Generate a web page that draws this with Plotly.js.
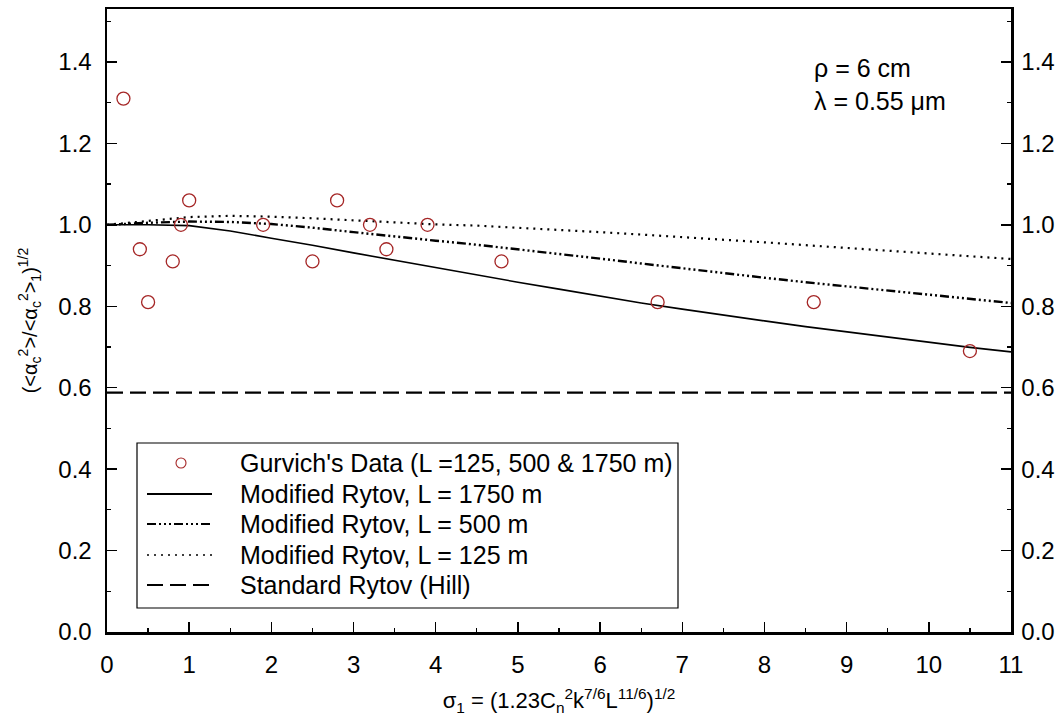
<!DOCTYPE html>
<html>
<head>
<meta charset="utf-8">
<script src="https://cdn.plot.ly/plotly-3.0.1.min.js"></script>
<style>
  html, body { margin: 0; padding: 0; background: #fff; }
  #chart { width: 1059px; height: 719px; }
</style>
</head>
<body>
<div id="chart"></div>
<script>
// Gurvich's measurements (L = 125, 500 & 1750 m)
const gurvichX = [0.2, 0.4, 0.5, 0.8, 0.9, 1.0, 1.9, 2.5, 2.8, 3.2, 3.4, 3.9, 4.8, 6.7, 8.6, 10.5];
const gurvichY = [1.31, 0.94, 0.81, 0.91, 1.0, 1.06, 1.0, 0.91, 1.06, 1.0, 0.94, 1.0, 0.91, 0.81, 0.81, 0.69];

// Common sigma_1 grid for the theory curves
const sigma = [0, 0.5, 1.0, 1.5, 2.0, 2.5, 3.0, 3.5, 4.0, 4.5, 5.0, 5.5, 6.0, 6.5, 7.0, 7.5, 8.0, 8.5, 9.0, 9.5, 10.0, 10.5, 11.0];

// Modified Rytov theory, three path lengths
const rytov1750 = [1.000, 1.000, 0.998, 0.985, 0.967, 0.950, 0.931, 0.913, 0.894, 0.876, 0.859, 0.842, 0.825, 0.808, 0.793, 0.778, 0.764, 0.750, 0.737, 0.724, 0.711, 0.699, 0.688];
const rytov500  = [1.000, 1.005, 1.008, 1.007, 1.002, 0.993, 0.982, 0.971, 0.961, 0.951, 0.940, 0.928, 0.917, 0.905, 0.893, 0.881, 0.870, 0.859, 0.849, 0.838, 0.828, 0.818, 0.808];
const rytov125  = [1.000, 1.010, 1.019, 1.022, 1.020, 1.016, 1.011, 1.006, 1.001, 0.998, 0.993, 0.987, 0.982, 0.976, 0.970, 0.963, 0.957, 0.950, 0.943, 0.936, 0.929, 0.922, 0.916];

// Standard Rytov (Hill) level
const hillX = [0, 11];
const hillY = [0.588, 0.588];

// Legend labels
const legendLabels = [
  "Gurvich's Data (L =125, 500 &amp; 1750 m)",
  "Modified Rytov, L = 1750 m",
  "Modified Rytov, L = 500 m",
  "Modified Rytov, L = 125 m",
  "Standard Rytov (Hill)"
];

const FONT = '"Liberation Sans", Arial, sans-serif';
const MARK_RED = '#a52626';

const DASH_500 = '9px,3px,2px,3px,2px,3px,2px,3px';
const DOT_125 = '2px,5px';
const DASH_HILL = '16px,7px';

const traces = [
  { x: sigma, y: rytov1750, mode: 'lines', line: { color: '#000', width: 1.6 }, name: legendLabels[1] },
  { x: sigma, y: rytov500, mode: 'lines', line: { color: '#000', width: 2.4, dash: DASH_500 }, name: legendLabels[2] },
  { x: sigma, y: rytov125, mode: 'lines', line: { color: '#000', width: 2.2, dash: DOT_125 }, name: legendLabels[3] },
  { x: hillX, y: hillY, mode: 'lines', yaxis: 'y2', line: { color: '#000', width: 2.2, dash: DASH_HILL }, name: legendLabels[4] },
  { x: gurvichX, y: gurvichY, mode: 'markers', name: legendLabels[0],
    marker: { symbol: 'circle-open', size: 13, color: MARK_RED, line: { width: 1.3, color: MARK_RED } } }
];

// Plot-area geometry in pixels, used to place the legend box in paper units
const W = 1059, H = 719;
const L = 107, R = 48, T = 9, B = 87;
const PW = W - L - R, PH = H - T - B;
const px = v => (v - L) / PW;
const py = v => (H - B - v) / PH;

// Hand-built legend: frame, samples and labels
const rowY = [463, 494, 524, 555, 585];
const sampleX0 = px(147), sampleX1 = px(212), sampleXc = px(181);
const textX = px(238);

const shapes = [
  { type: 'rect', xref: 'paper', yref: 'paper', x0: px(137), x1: px(678), y0: py(608), y1: py(443),
    line: { color: '#000', width: 1.2 }, fillcolor: 'rgba(0,0,0,0)' },
  { type: 'circle', xref: 'paper', yref: 'paper', xsizemode: 'pixel', ysizemode: 'pixel',
    xanchor: sampleXc, yanchor: py(rowY[0]), x0: -5, x1: 5, y0: -5, y1: 5,
    line: { color: MARK_RED, width: 1.1 } },
  { type: 'line', xref: 'paper', yref: 'paper', x0: sampleX0, x1: sampleX1, y0: py(rowY[1]), y1: py(rowY[1]),
    line: { color: '#000', width: 2 } },
  { type: 'line', xref: 'paper', yref: 'paper', x0: sampleX0, x1: sampleX1, y0: py(rowY[2]), y1: py(rowY[2]),
    line: { color: '#000', width: 2, dash: DASH_500 } },
  { type: 'line', xref: 'paper', yref: 'paper', x0: sampleX0, x1: sampleX1, y0: py(rowY[3]), y1: py(rowY[3]),
    line: { color: '#000', width: 1.5, dash: DOT_125 } },
  { type: 'line', xref: 'paper', yref: 'paper', x0: sampleX0, x1: sampleX1, y0: py(rowY[4]), y1: py(rowY[4]),
    line: { color: '#000', width: 2, dash: DASH_HILL } }
];

const annotations = legendLabels.map((t, i) => ({
  xref: 'paper', yref: 'paper', x: textX, y: py(rowY[i]), xanchor: 'left', yanchor: 'middle',
  text: t, showarrow: false, font: { family: FONT, size: 25, color: '#000' }
}));

annotations.push(
  { xref: 'paper', yref: 'paper', x: px(812), y: py(68), xanchor: 'left', yanchor: 'middle',
    text: '\u03C1 = 6 cm', showarrow: false, font: { family: FONT, size: 25, color: '#000' } },
  { xref: 'paper', yref: 'paper', x: px(812), y: py(101), xanchor: 'left', yanchor: 'middle',
    text: '\u03BB = 0.55 \u03BCm', showarrow: false, font: { family: FONT, size: 25, color: '#000' } }
);

const yCommon = {
  range: [0, 1.53], dtick: 0.2, tick0: 0, tickformat: '.1f',
  ticks: 'inside', ticklen: 10, tickwidth: 1.5, tickcolor: '#000',
  minor: { ticks: 'inside', ticklen: 4, tickwidth: 1.2, dtick: 0.1, tickcolor: '#000' },
  showline: true, linewidth: 2.5, linecolor: '#000',
  showgrid: false, zeroline: false, fixedrange: true,
  tickfont: { family: FONT, size: 24, color: '#000' }
};

const layout = {
  width: W, height: H,
  margin: { l: L, r: R, t: T, b: B, pad: 0 },
  paper_bgcolor: '#fff', plot_bgcolor: '#fff',
  showlegend: false,
  font: { family: FONT, color: '#000' },
  xaxis: {
    range: [0, 11], dtick: 1, tick0: 0,
    ticks: 'inside', ticklen: 10, tickwidth: 1.5, tickcolor: '#000',
    minor: { ticks: 'inside', ticklen: 4, tickwidth: 1.2, dtick: 0.5, tickcolor: '#000' },
    showline: true, linewidth: 2.5, linecolor: '#000', mirror: true,
    showgrid: false, zeroline: false, fixedrange: true,
    ticklabelstandoff: 10,
    tickfont: { family: FONT, size: 24, color: '#000' },
    title: {
      text: '\u03C3<sub>1</sub> = (1.23C<sub>n</sub><sup>2</sup>k<sup>7/6</sup>L<sup>11/6</sup>)<sup>1/2</sup>',
      font: { family: FONT, size: 22, color: '#000' }, standoff: 16
    }
  },
  yaxis: Object.assign({}, yCommon, {
    side: 'left',
    ticklabelstandoff: 8,
    title: {
      text: '(&lt;\u03B1<sub>c</sub><sup>2</sup>&gt;/&lt;\u03B1<sub>c</sub><sup>2</sup>&gt;<sub>1</sub>)<sup>1/2</sup>',
      font: { family: FONT, size: 20, color: '#000' }, standoff: 16
    }
  }),
  yaxis2: Object.assign({}, yCommon, {
    overlaying: 'y', side: 'right', anchor: 'x',
    ticklabelstandoff: 3
  }),
  shapes: shapes,
  annotations: annotations
};

Plotly.newPlot('chart', traces, layout, { displayModeBar: false, staticPlot: true });
</script>
</body>
</html>
